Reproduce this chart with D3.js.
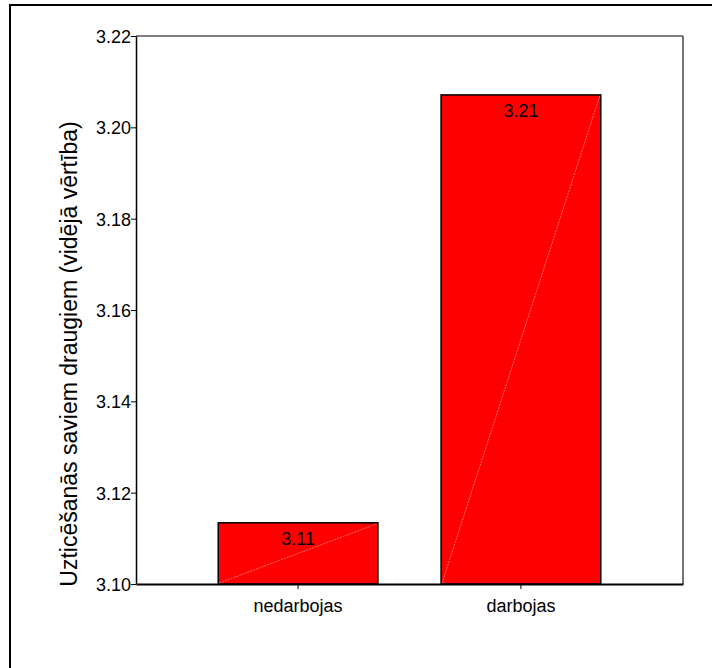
<!DOCTYPE html>
<html>
<head>
<meta charset="utf-8">
<script src="https://cdn.jsdelivr.net/npm/d3@7"></script>
<style>
body{margin:0;background:#fff;}
svg{display:block;font-family:Arial, "Liberation Sans", sans-serif;}
</style>
</head>
<body>
<svg id="chart" width="712" height="668"></svg>
<script>
const categories = ["nedarbojas", "darbojas"];
const values = [3.1134, 3.2071];
const valueLabels = ["3.11", "3.21"];
const yTicks = [3.10, 3.12, 3.14, 3.16, 3.18, 3.20, 3.22];
const yTitle = "Uzticēšanās saviem draugiem (vidējā vērtība)";

const svg = d3.select("#chart");
const FONT = "Arial, 'Liberation Sans', sans-serif";
const m = {left: 136, right: 683, top: 36, bottom: 584};

// outer frame (right/bottom off-canvas)
svg.append("rect").attr("x", 10).attr("y", 5).attr("width", 720).attr("height", 700)
  .attr("fill", "#fff").attr("stroke", "#000").attr("stroke-width", 2);

const x = d3.scaleBand().domain(categories).range([m.left, m.right])
  .paddingInner(0.2835).paddingOuter(0.369);
const y = d3.scaleLinear().domain([3.10, 3.22]).range([m.bottom, m.top]);

// plot frame top & right
svg.append("line").attr("x1", m.left).attr("x2", m.right).attr("y1", m.top).attr("y2", m.top)
  .attr("stroke", "#000").attr("stroke-width", 1.2);
svg.append("line").attr("x1", m.right).attr("x2", m.right).attr("y1", m.top).attr("y2", m.bottom)
  .attr("stroke", "#444").attr("stroke-width", 1.5);

// bars
const g = svg.append("g");
categories.forEach((c, i) => {
  const x0 = x(c), bw = x.bandwidth(), yt = y(values[i]), yb = y(3.10);
  g.append("rect").attr("x", x0).attr("y", yt).attr("width", bw).attr("height", yb - yt)
    .attr("fill", "#ff0000").attr("stroke", "#000").attr("stroke-width", 1.5);
  g.append("line").attr("x1", x0 + 1).attr("y1", yb - 1).attr("x2", x0 + bw - 1).attr("y2", yt + 1)
    .attr("stroke", "#ffb4b4").attr("stroke-width", 0.6).attr("stroke-dasharray", "2,1");
  g.append("text").attr("x", x0 + bw / 2).attr("y", yt + 22).attr("text-anchor", "middle")
    .attr("font-size", 18).attr("font-family", FONT).attr("fill", "#000").text(valueLabels[i]);
});

// y axis
const ya = svg.append("g").attr("transform", `translate(${m.left},0)`)
  .call(d3.axisLeft(y).tickValues(yTicks).tickFormat(d3.format(".2f"))
    .tickSizeInner(5).tickSizeOuter(0).tickPadding(0));
ya.select(".domain").attr("stroke", "#000").attr("stroke-width", 1.5);
ya.selectAll(".tick line").attr("stroke", "#000");
ya.selectAll(".tick text").attr("font-size", 18).attr("fill", "#000")
  .attr("font-family", FONT).attr("dy", "0.36em");

// x axis
const xa = svg.append("g").attr("transform", `translate(0,${m.bottom})`)
  .call(d3.axisBottom(x).tickSizeInner(5).tickSizeOuter(0).tickPadding(10));
xa.select(".domain").attr("stroke", "#000").attr("stroke-width", 2.2);
xa.selectAll(".tick line").attr("stroke", "#000");
xa.selectAll(".tick text").attr("font-size", 18).attr("fill", "#000")
  .attr("font-family", FONT);

// y title
svg.append("text").attr("transform", `translate(77,354) rotate(-90)`)
  .attr("text-anchor", "middle").attr("font-size", 23).attr("font-family", FONT)
  .attr("fill", "#000").text(yTitle);
</script>
</body>
</html>
